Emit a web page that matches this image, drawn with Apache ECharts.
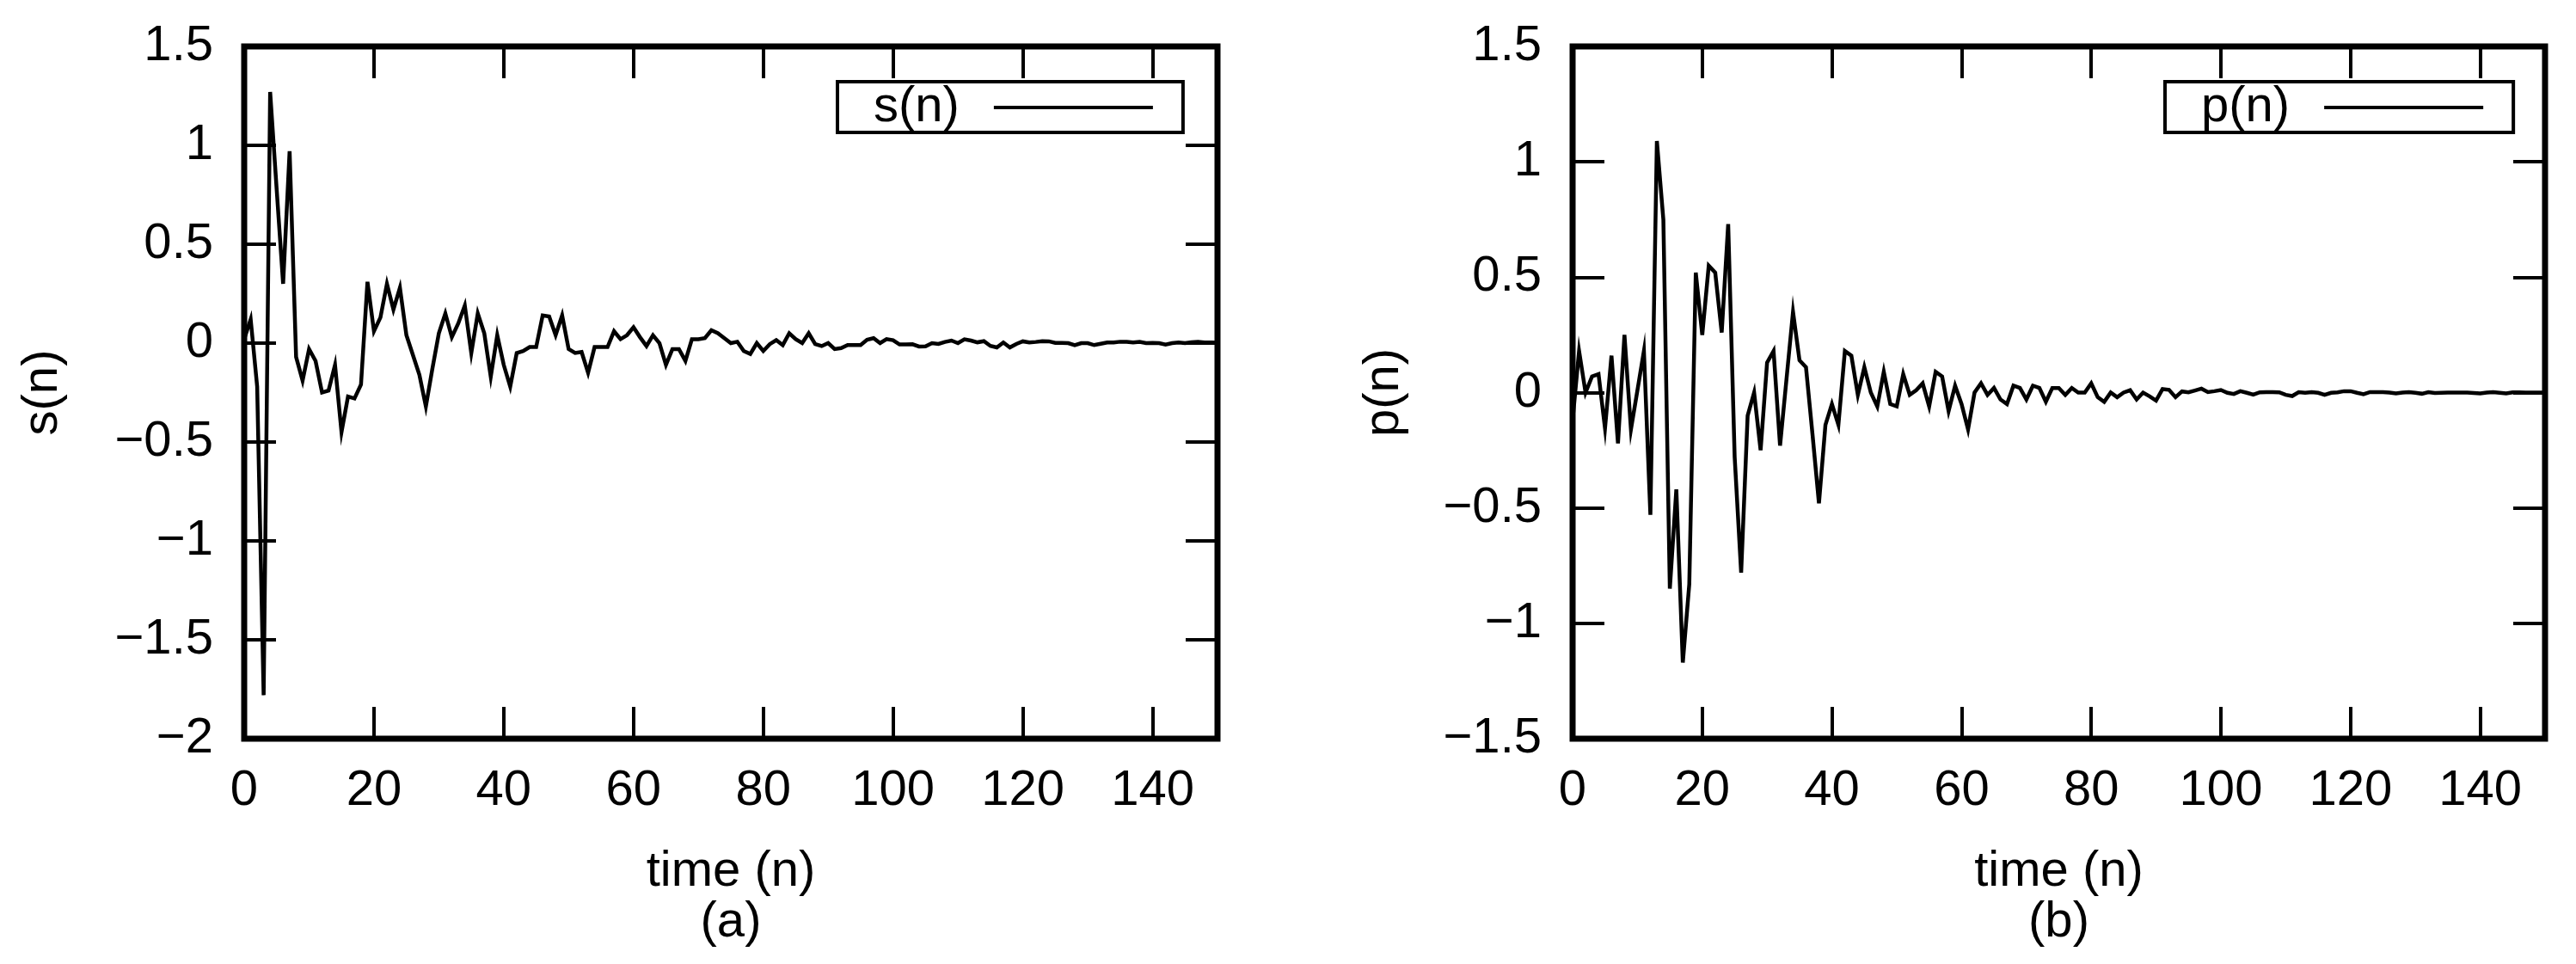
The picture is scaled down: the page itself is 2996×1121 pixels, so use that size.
<!DOCTYPE html>
<html>
<head>
<meta charset="utf-8">
<title>s(n) / p(n)</title>
<script src="https://cdn.jsdelivr.net/npm/echarts/dist/echarts.min.js"></script>
<style>
	html, body { margin: 0; padding: 0; background: #fff; }
	#chart { width: 2996px; height: 1121px; }
</style>
</head>
<body>
<div id="chart"></div>
<script>
	// time axis ticks (n), axis runs to 150
	var xTicks = [0, 20, 40, 60, 80, 100, 120, 140];
	var xMax = 150;
	var sTicks = [-2, -1.5, -1, -0.5, 0, 0.5, 1, 1.5];
	var pTicks = [-1.5, -1, -0.5, 0, 0.5, 1, 1.5];

	// s(n), n = 0..150
	var sValues = [
		0.02, 0.12, -0.22, -1.78, 1.27, 0.78, 0.30, 0.97, -0.07, -0.19,
		-0.03, -0.09, -0.25, -0.24, -0.11, -0.45, -0.27, -0.28, -0.21, 0.31,
		0.06, 0.13, 0.30, 0.17, 0.28, 0.04, -0.06, -0.16, -0.32, -0.13,
		0.05, 0.15, 0.03, 0.10, 0.19, -0.05, 0.15, 0.05, -0.17, 0.04,
		-0.11, -0.22, -0.05, -0.04, -0.02, -0.02, 0.14, 0.135, 0.04, 0.14,
		-0.03, -0.05, -0.045, -0.15, -0.02, -0.02, -0.02, 0.06, 0.02, 0.04,
		0.08, 0.03, -0.015, 0.04, 0.0, -0.11, -0.03, -0.03, -0.09, 0.02,
		0.02, 0.025, 0.065, 0.05, 0.025, 0.0, 0.007, -0.04, -0.055, 0.0,
		-0.04, -0.005, 0.015, -0.01, 0.05, 0.02, 0.0, 0.05, -0.005, -0.015,
		0.0, -0.03, -0.025, -0.01, -0.01, -0.01, 0.017, 0.025, 0.0, 0.02,
		0.015, -0.007, -0.007, -0.006, -0.017, -0.016, 0.0, -0.004, 0.006, 0.013,
		0.0, 0.019, 0.013, 0.004, 0.01, -0.014, -0.022, 0.003, -0.022, -0.004,
		0.009, 0.003, 0.006, 0.01, 0.009, 0.001, 0.001, 0.0, -0.01, 0.0,
		0.0, -0.01, -0.003, 0.003, 0.003, 0.007, 0.006, 0.003, 0.006, 0.0,
		0.001, 0.0, -0.007, 0.0, 0.003, 0.0, 0.004, 0.006, 0.003, 0.003, 0.002
	];

	// p(n), n = 0..150
	var pValues = [
		-0.12, 0.18, 0.0, 0.07, 0.08, -0.155, 0.16, -0.22, 0.25, -0.16,
		0.01, 0.18, -0.53, 1.09, 0.75, -0.85, -0.42, -1.17, -0.83, 0.52,
		0.25, 0.55, 0.52, 0.26, 0.73, -0.28, -0.78, -0.10, 0.0, -0.25,
		0.13, 0.18, -0.23, 0.06, 0.35, 0.14, 0.11, -0.18, -0.48, -0.14,
		-0.05, -0.14, 0.18, 0.16, -0.01, 0.11, 0.0, -0.06, 0.09, -0.05,
		-0.06, 0.08, -0.01, 0.01, 0.04, -0.06, 0.09, 0.07, -0.08, 0.03,
		-0.05, -0.16, 0.0, 0.04, -0.01, 0.02, -0.03, -0.05, 0.03, 0.02,
		-0.03, 0.03, 0.02, -0.04, 0.02, 0.02, -0.01, 0.02, 0.0, 0.0,
		0.04, -0.02, -0.04, 0.0, -0.02, 0.0, 0.01, -0.03, 0.0, -0.016,
		-0.035, 0.015, 0.012, -0.02, 0.005, 0.001, 0.009, 0.017, 0.002, 0.006,
		0.011, -0.001, -0.006, 0.006, -0.001, -0.009, 0.001, 0.002, 0.002, 0.001,
		-0.01, -0.015, 0.002, -0.001, 0.002, -0.001, -0.01, -0.001, 0.001, 0.006,
		0.006, -0.001, -0.007, 0.002, 0.002, 0.002, 0.0, -0.004, 0.0, 0.002,
		-0.001, -0.005, 0.002, -0.002, -0.001, 0.0, 0.0, 0.0, 0.0, -0.002,
		-0.004, 0.0, 0.002, -0.001, -0.004, 0.001, 0.001, 0.0, 0.0, 0.0, 0.0
	];

	var FONT = '"Liberation Sans", Arial, Helvetica, sans-serif';
	var FS = 58;

	// gnuplot style: minus sign, no label on the closing 150
	function tickText(v) {
		if (v === xMax) return '';
		return String(v).replace('-', '\u2212');
	}

	function pairs(values) {
		return values.map(function (v, n) { return [n, v]; });
	}

	var tick = {
		show: true,
		inside: true,
		length: 37,
		lineStyle: { color: '#000', width: 4 }
	};
	// frame is the grid border, axes only carry ticks
	var noLine = { show: false, onZero: false };

	function xAxes(gridIndex, label) {
		return [{
			type: 'value',
			gridIndex: gridIndex,
			position: 'bottom',
			min: xTicks[0],
			max: xMax,
			interval: xTicks[1] - xTicks[0],
			axisLine: noLine,
			splitLine: { show: false },
			axisTick: tick,
			axisLabel: {
				color: '#000', fontSize: FS, fontFamily: FONT, margin: 32,
				showMaxLabel: false, formatter: tickText
			},
			name: 'time (n)\n' + label,
			nameLocation: 'middle',
			nameGap: 125,
			nameTextStyle: { color: '#000', fontSize: FS, fontFamily: FONT, lineHeight: 59 }
		}, {
			// mirrored ticks on top
			type: 'value',
			gridIndex: gridIndex,
			position: 'top',
			min: xTicks[0],
			max: xMax,
			interval: xTicks[1] - xTicks[0],
			axisLine: noLine,
			splitLine: { show: false },
			axisTick: tick,
			axisLabel: { show: false }
		}];
	}

	function yAxes(gridIndex, ticks, name, nameGap) {
		return [{
			type: 'value',
			gridIndex: gridIndex,
			position: 'left',
			min: ticks[0],
			max: ticks[ticks.length - 1],
			interval: ticks[1] - ticks[0],
			axisLine: noLine,
			splitLine: { show: false },
			axisTick: tick,
			axisLabel: { color: '#000', fontSize: FS, fontFamily: FONT, margin: 36, formatter: tickText },
			name: name,
			nameLocation: 'middle',
			nameGap: nameGap,
			nameTextStyle: { color: '#000', fontSize: FS, fontFamily: FONT }
		}, {
			// mirrored ticks on the right
			type: 'value',
			gridIndex: gridIndex,
			position: 'right',
			min: ticks[0],
			max: ticks[ticks.length - 1],
			interval: ticks[1] - ticks[0],
			axisLine: noLine,
			splitLine: { show: false },
			axisTick: tick,
			axisLabel: { show: false }
		}];
	}

	function legendBox(name, left) {
		return {
			data: [name],
			left: left,
			top: 95,
			orient: 'horizontal',
			align: 'right',
			icon: 'rect',
			itemWidth: 185,
			itemHeight: 4,
			selectedMode: false,
			borderColor: '#000',
			borderWidth: 4,
			padding: [1, 35, 0, 42],
			textStyle: { color: '#000', fontSize: FS, fontFamily: FONT, lineHeight: 58, padding: [0, 35, 0, 0] }
		};
	}

	function lineSeries(name, values, idx) {
		return {
			name: name,
			type: 'line',
			xAxisIndex: idx * 2,
			yAxisIndex: idx * 2,
			data: pairs(values),
			symbol: 'none',
			color: '#000',
			lineStyle: { color: '#000', width: 4.5, join: 'miter' },
			animation: false
		};
	}

	var chart = echarts.init(document.getElementById('chart'));
	chart.setOption({
		backgroundColor: '#fff',
		animation: false,
		grid: [
			{ left: 284, top: 54, width: 1132, height: 805, show: true, borderColor: '#000', borderWidth: 7 },
			{ left: 1829, top: 54, width: 1131, height: 805, show: true, borderColor: '#000', borderWidth: 7 }
		],
		xAxis: xAxes(0, '(a)').concat(xAxes(1, '(b)')),
		yAxis: yAxes(0, sTicks, 's(n)', 205).concat(yAxes(1, pTicks, 'p(n)', 190)),
		legend: [legendBox('s(n)', 974), legendBox('p(n)', 2518)],
		series: [
			lineSeries('s(n)', sValues, 0),
			lineSeries('p(n)', pValues, 1)
		]
	});
</script>
</body>
</html>
